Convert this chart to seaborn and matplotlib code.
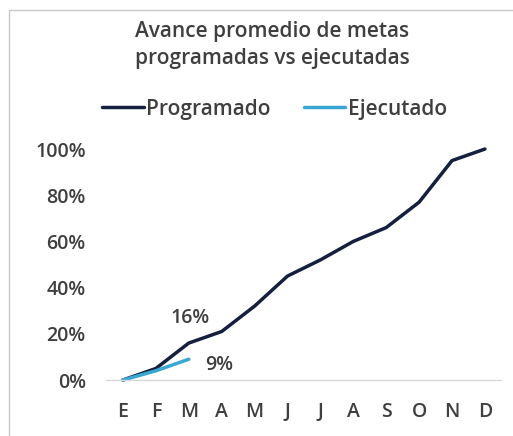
import pandas as pd
import seaborn as sns
import matplotlib.pyplot as plt
from matplotlib.lines import Line2D
from matplotlib.ticker import PercentFormatter

# Datos del gráfico
meses = ["E", "F", "M", "A", "M", "J", "J", "A", "S", "O", "N", "D"]
programado = [0.0, 0.05, 0.16, 0.21, 0.32, 0.45, 0.52, 0.60, 0.66, 0.77, 0.95, 1.00]
ejecutado = [0.0, 0.04, 0.09]

# Tabla larga para seaborn
df = pd.concat([
    pd.DataFrame({"mes": range(len(programado)), "avance": programado, "serie": "Programado"}),
    pd.DataFrame({"mes": range(len(ejecutado)), "avance": ejecutado, "serie": "Ejecutado"}),
])

sns.set_style("white")
plt.rcParams["font.family"] = ["Open Sans", "DejaVu Sans"]
colores = {"Programado": "#14203d", "Ejecutado": "#3aa6d4"}
texto = "#3f3f3f"

fig = plt.figure(figsize=(5.13, 4.36), dpi=100)
ax = fig.add_axes([0.2076, 0.1284, 0.7698, 0.5298])

sns.lineplot(data=df, x="mes", y="avance", hue="serie", palette=colores,
             linewidth=2.5, ax=ax, legend=False)
for ln in ax.get_lines():
    ln.set_clip_on(False)

ax.set_xlim(-0.5, len(meses) - 0.5)
ax.set_ylim(0, 1.0)
ax.set_xticks(range(len(meses)))
ax.set_xticklabels(meses)
ax.set_yticks([0, 0.2, 0.4, 0.6, 0.8, 1.0])
ax.yaxis.set_major_formatter(PercentFormatter(1.0, decimals=0))
ax.tick_params(axis="x", labelsize=14, colors=texto, length=0, pad=16)
ax.tick_params(axis="y", labelsize=14, colors=texto, length=0, pad=15)
for lab in ax.get_xticklabels() + ax.get_yticklabels():
    lab.set_fontweight("semibold")
ax.set_xlabel("")
ax.set_ylabel("")
for s in ["top", "right", "left"]:
    ax.spines[s].set_visible(False)
ax.spines["bottom"].set_color("#d9d9d9")
ax.spines["bottom"].set_linewidth(1)

# Etiquetas de datos en marzo
ax.annotate(f"{programado[2]:.0%}", xy=(2, programado[2]), xytext=(1, 18),
            textcoords="offset points", ha="center", va="center",
            fontsize=14, color=texto, fontweight="semibold")
ax.annotate(f"{ejecutado[2]:.0%}", xy=(2, ejecutado[2]), xytext=(22, -4),
            textcoords="offset points", ha="center", va="center",
            fontsize=14, color=texto, fontweight="semibold")

fig.text(0.53, 0.897, "Avance promedio de metas\nprogramadas vs ejecutadas",
         ha="center", va="center", fontsize=15, color=texto, linespacing=1.4,
         fontweight="semibold")

handles = [Line2D([], [], color=colores[k], linewidth=2.5) for k in colores]
leg = fig.legend(handles, list(colores), loc="center", bbox_to_anchor=(0.535, 0.75),
                 ncol=2, frameon=False, fontsize=15, handlelength=2.0,
                 handletextpad=0.1, columnspacing=1.6, labelcolor=texto)
for t in leg.get_texts():
    t.set_fontweight("semibold")

# Marco del gráfico
fig.add_artist(Line2D([9 / 513, 9 / 513], [0, 1 - 10 / 436], transform=fig.transFigure,
                      color="#c8c8c8", linewidth=1))
fig.add_artist(Line2D([9 / 513, 1], [1 - 10 / 436, 1 - 10 / 436], transform=fig.transFigure,
                      color="#c8c8c8", linewidth=1))

fig.savefig("out.png", dpi=100)
